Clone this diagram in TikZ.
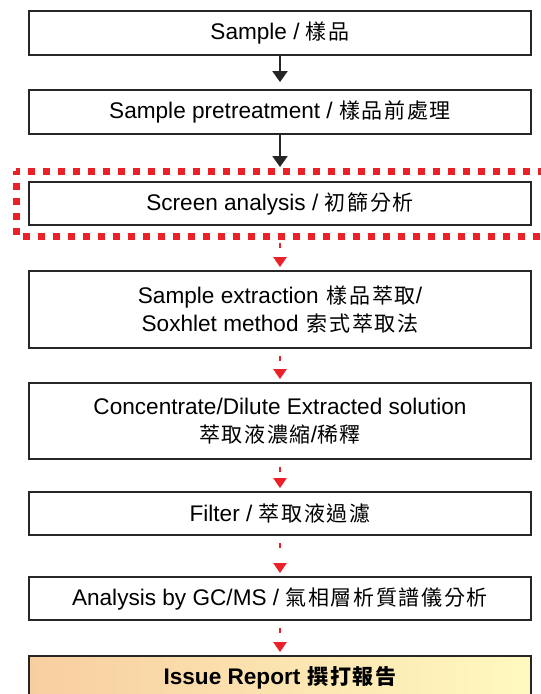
\documentclass[tikz,border=0pt]{standalone}
\usepackage{fontspec}
\setmainfont{Liberation Sans}
\newfontfamily\cjk[LetterSpace=8]{Noto Sans CJK TC}
\newcommand{\zh}[1]{{\cjk\fontsize{21}{28}\selectfont #1}}
\usetikzlibrary{arrows.meta,positioning}
\definecolor{dotred}{RGB}{236,32,40}
\definecolor{reportpeach}{RGB}{248,206,160}
\definecolor{reportyellow}{RGB}{255,249,192}

\begin{document}
\begin{tikzpicture}[x=1pt,y=1pt,
        stepbox/.style={rectangle, draw=black!85, line width=1.8pt, minimum width=502pt, minimum height=44pt, inner sep=0pt, align=center, font=\fontsize{22.6}{28}\selectfont},
        blackflow/.style={-{Triangle[width=15pt,length=11pt]}, line width=2pt, black!85, shorten >=7pt},
        redflow/.style={-{Triangle[width=13pt,length=10pt]}, line width=2pt, dotred, dash pattern=on 5pt off 60pt, shorten <=7pt, shorten >=3pt}]
        \clip (0,0) rectangle (541,-694);
        \node[stepbox] at (280,-33) (sample) {Sample / \zh{樣品}};
        \node[stepbox] at (280,-112) (pretreat) {Sample pretreatment / \zh{樣品前處理}};
        \node[stepbox, minimum height=43pt] at (280,-203.5) (screen) {Screen analysis / \zh{初篩分析}};
        \node[stepbox, minimum height=77pt] at (280,-309.5) (extract) {Sample extraction\hspace{8pt}\zh{樣品萃取}/\\Soxhlet method\hspace{8pt}\zh{索式萃取法}};
        \node[stepbox, minimum height=76pt] at (280,-421) (conc) {Concentrate/Dilute Extracted solution\\\zh{萃取液濃縮}/\zh{稀釋}};
        \node[stepbox, minimum height=43pt] at (280,-513.5) (filter) {Filter / \zh{萃取液過濾}};
        \node[stepbox, minimum height=43pt] at (280,-598.5) (gcms) {Analysis by GC/MS / \zh{氣相層析質譜儀分析}};
        \node[stepbox, left color=reportpeach, right color=reportyellow, font=\fontsize{22.6}{28}\selectfont\bfseries] at (280,-678) (report) {Issue Report\hspace{7pt}\zh{\bfseries 撰打報告}};
        % red frame round the screen step
        \draw[dotred, line width=7pt, dash pattern=on 7pt off 8pt, dash phase=3.5pt] (16,-171) -- (575,-171);
        \draw[dotred, line width=7pt, dash pattern=on 7pt off 8pt, dash phase=3.5pt] (16,-171) -- (16,-236) -- (575,-236);
        \coordinate (screenin) at (280,-167);
        \coordinate (screenout) at (280,-236);
        \draw[blackflow] (sample) -- (pretreat);
        \draw[blackflow, shorten >=0pt] (pretreat) -- (screenin);
        \draw[redflow] (screenout) -- (extract);
        \draw[redflow] (extract) -- (conc);
        \draw[redflow] (conc) -- (filter);
        \draw[redflow] (filter) -- (gcms);
        \draw[redflow] (gcms) -- (report);
      \end{tikzpicture}
\end{document}
